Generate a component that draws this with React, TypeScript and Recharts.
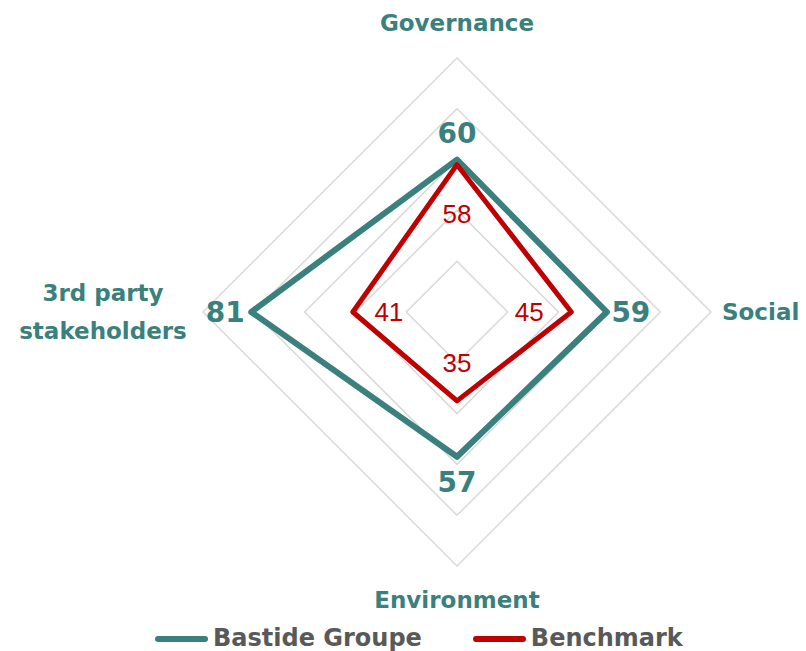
import { RadarChart, Radar, PolarGrid, PolarAngleAxis, PolarRadiusAxis, Legend } from "recharts"

const categories = ["Governance", "Social", "Environment", "3rd party stakeholders"]
const bastideValues = [60, 59, 57, 81]
const benchmarkValues = [58, 45, 35, 41]

const TEAL = "#3A807D"
const RED = "#C00000"
const CX = 457
const CY = 312
const FONT = "'DejaVu Sans', sans-serif"

const data = categories.map((name, i) => ({
  axis: name,
  bastide: bastideValues[i],
  benchmark: benchmarkValues[i],
}))

// value label pushed along the spoke (top, right, bottom, left offsets; positive = outward)
const valueLabel = (color: string, offsets: number[], style: any) => (props: any) => {
  const { x, y, value } = props
  const dx = x - CX
  const dy = y - CY
  const side = Math.abs(dx) > Math.abs(dy) ? (dx > 0 ? 1 : 3) : dy < 0 ? 0 : 2
  const len = Math.hypot(dx, dy) || 1
  const off = offsets[side]
  return (
    <text
      key={`lbl-${side}`}
      x={x + (dx / len) * off}
      y={y + (dy / len) * off}
      textAnchor="middle"
      dominantBaseline="central"
      fill={color}
      {...style}
    >
      {value}
    </text>
  )
}

const AngleTick = (props: any) => {
  const { x, y, payload } = props
  const style = { fill: TEAL, fontFamily: FONT, fontWeight: 700, fontSize: 23 }
  if (payload.value === "3rd party stakeholders") {
    return (
      <text x={x - 92} y={y} textAnchor="middle" {...style}>
        <tspan x={x - 92} dy={-11}>3rd party</tspan>
        <tspan x={x - 92} dy={38}>stakeholders</tspan>
      </text>
    )
  }
  let dx = 0
  let dy = 0
  let anchor = "middle"
  if (payload.value === "Governance") dy = -19
  if (payload.value === "Social") { dx = 3; dy = 8; anchor = "start" }
  if (payload.value === "Environment") dy = 34
  return (
    <text x={x + dx} y={y + dy} textAnchor={anchor} {...style}>
      {payload.value}
    </text>
  )
}

const LegendContent = (props: any) => {
  const { payload } = props
  return (
    <div style={{ display: "flex", justifyContent: "flex-start", gap: 51, paddingLeft: 155, lineHeight: 1 }}>
      {(payload || []).map((p: any) => (
        <div key={p.value} style={{ display: "flex", alignItems: "center", gap: 5 }}>
          <div style={{ width: 53, height: 6, borderRadius: 3, background: p.color, marginTop: 2 }} />
          <span style={{ fontFamily: FONT, fontWeight: 700, fontSize: 24, color: "#595959" }}>{p.value}</span>
        </div>
      ))}
    </div>
  )
}

export default function App() {
  return (
    <div style={{ position: "fixed", left: 0, top: 0, width: 806, height: 651, background: "#fff", overflow: "hidden" }}>
      <RadarChart width={806} height={651} data={data} cx={CX} cy={CY} outerRadius={254} margin={{ top: 0, right: 0, bottom: 0, left: 0 }}>
        <PolarGrid gridType="polygon" radialLines={false} stroke="#D9D9D9" strokeWidth={1.5} />
        <PolarAngleAxis dataKey="axis" tick={<AngleTick />} tickLine={false} axisLine={false} />
        <PolarRadiusAxis domain={[0, 100]} tickCount={6} tick={false} axisLine={false} />
        <Radar
          name="Bastide Groupe"
          dataKey="bastide"
          stroke={TEAL}
          strokeWidth={6}
          strokeLinejoin="round"
          fill="none"
          fillOpacity={0}
          dot={false}
          label={valueLabel(TEAL, [26, 24, 26, 26], { fontFamily: FONT, fontWeight: 700, fontSize: 28 })}
          activeDot={false}
          isAnimationActive={false}
          legendType="line"
        />
        <Radar
          name="Benchmark"
          dataKey="benchmark"
          stroke={RED}
          strokeWidth={5}
          strokeLinejoin="round"
          fill="none"
          fillOpacity={0}
          dot={false}
          label={valueLabel(RED, [-49, -42, -38, -36], { fontFamily: "'Liberation Sans', sans-serif", fontSize: 26 })}
          activeDot={false}
          isAnimationActive={false}
          legendType="line"
        />
        <Legend
          content={<LegendContent />}
          wrapperStyle={{ position: "absolute", top: 626, left: 0, width: 806 }}
        />
      </RadarChart>
    </div>
  )
}
